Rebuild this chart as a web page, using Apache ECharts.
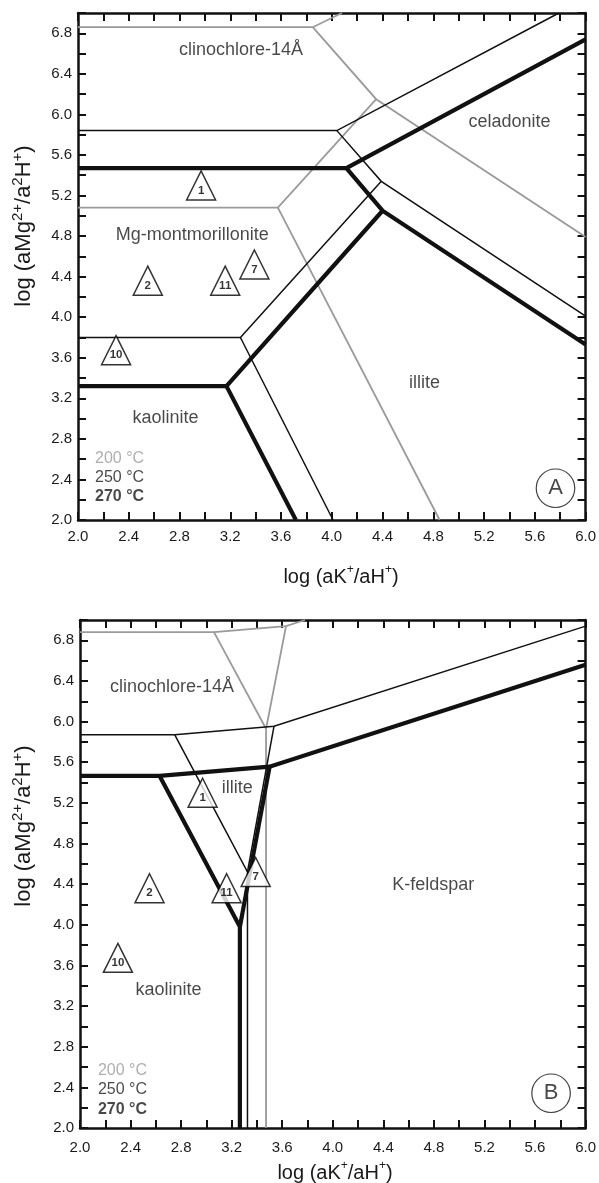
<!DOCTYPE html>
<html>
<head>
<meta charset="utf-8">
<script src="https://cdn.jsdelivr.net/npm/echarts@6/dist/echarts.min.js"></script>
<style>
html,body{margin:0;padding:0;background:#fff;}
#chart{width:599px;height:1183px;}
</style>
</head>
<body>
<div id="chart"></div>
<script>
// ---- tick labels ----
const xTickLabels = ['2.0','2.4','2.8','3.2','3.6','4.0','4.4','4.8','5.2','5.6','6.0'];
const yTickLabels = ['2.0','2.4','2.8','3.2','3.6','4.0','4.4','4.8','5.2','5.6','6.0','6.4','6.8'];

// ---- sample points (same in both panels) ----
const sampleNames = ['1','2','7','10','11'];
const sampleX = [2.97, 2.55, 3.39, 2.30, 3.16];
const sampleY = [5.30, 4.36, 4.52, 3.675, 4.36];

// ---- Panel A phase boundaries (polylines of [x, y]) ----
const a200 = [
  [[2.0,6.86],[3.85,6.86],[4.08,7.0]],
  [[3.85,6.86],[4.35,6.15],[6.0,4.79]],
  [[2.0,5.08],[3.575,5.08],[4.35,6.15]],
  [[3.575,5.08],[4.85,2.0]]
];
const a250 = [
  [[2.0,5.84],[4.04,5.84],[5.79,7.0]],
  [[4.04,5.84],[4.39,5.34],[6.0,4.01]],
  [[2.0,3.80],[3.28,3.80],[4.39,5.34]],
  [[3.28,3.80],[4.01,2.0]]
];
const a270 = [
  [[2.0,5.47],[4.115,5.47],[6.0,6.74]],
  [[4.115,5.47],[4.40,5.05],[6.0,3.73]],
  [[2.0,3.32],[3.17,3.32],[4.40,5.05]],
  [[3.17,3.32],[3.717,2.0]]
];

// ---- Panel B phase boundaries ----
const b200 = [
  [[2.0,6.88],[3.06,6.88],[3.63,6.94],[3.78,7.0]],
  [[3.06,6.88],[3.472,5.93]],
  [[3.63,6.94],[3.472,5.93],[3.472,2.0]]
];
const b250 = [
  [[2.0,5.87],[2.75,5.87],[3.535,5.955],[6.0,6.94]],
  [[2.75,5.87],[3.325,4.52],[3.325,2.0]],
  [[3.535,5.955],[3.325,4.52]]
];
const b270 = [
  [[2.0,5.465],[2.63,5.465],[3.50,5.556],[6.0,6.56]],
  [[2.63,5.465],[3.265,3.98],[3.265,2.0]],
  [[3.50,5.556],[3.265,3.98]]
];

// ---- region labels ----
const regionNamesA = ['clinochlore-14Å','Mg-montmorillonite','celadonite','illite','kaolinite'];
const regionXA = [3.285, 2.90, 5.40, 4.73, 2.69];
const regionYA = [6.634, 4.806, 5.92, 3.35, 3.005];
const regionNamesB = ['clinochlore-14Å','illite','K-feldspar','kaolinite'];
const regionXB = [2.728, 3.244, 4.795, 2.70];
const regionYB = [6.34, 5.343, 4.39, 3.358];

// ---- temperature key ----
const tempLabels = ['200 °C','250 °C','270 °C'];
const tempColors = ['#9a9a9a','#1a1a1a','#1a1a1a'];
const tempWeights = ['normal','normal','bold'];
const tempXA = 2.134, tempYA = [2.603, 2.415, 2.227];
const tempXB = 2.142, tempYB = [2.561, 2.374, 2.184];

// ---- panel letters ----
const panelLetters = ['A','B'];
const panelLetterX = [5.763, 5.727];
const panelLetterY = [2.313, 2.342];

const FONT = 'Liberation Sans, Arial, Helvetica, sans-serif';
const INK = '#1a1a1a';
const GRAY = '#9a9a9a';

function fmt(list){ return v => { const s = (Math.round(v*10)/10).toFixed(1); return list.includes(s) ? s : ''; }; }

function xAx(grid, pos, showLabel, margin){
  return {type:'value', gridIndex:grid, position:pos, min:2, max:6, interval:0.2,
    axisLine:{show:true, onZero:false, lineStyle:{color:'#111', width:2.5}},
    axisTick:{show:true, inside:true, length:8, lineStyle:{color:'#111', width:2}},
    splitLine:{show:false},
    axisLabel:{show:showLabel, formatter:fmt(xTickLabels), fontSize:15, color:INK, fontFamily:FONT, margin:margin}};
}
function yAx(grid, pos, showLabel){
  return {type:'value', gridIndex:grid, position:pos, min:2, max:7, interval:0.2,
    axisLine:{show:true, onZero:false, lineStyle:{color:'#111', width:2.5}},
    axisTick:{show:true, inside:true, length:8, lineStyle:{color:'#111', width:2}},
    splitLine:{show:false},
    axisLabel:{show:showLabel, formatter:fmt(yTickLabels), fontSize:15, color:INK, fontFamily:FONT, margin:6}};
}

function lines(polys, ai, color, width, z){
  return polys.map(p => ({type:'line', xAxisIndex:ai, yAxisIndex:ai, data:p, symbol:'none', showSymbol:false,
    lineStyle:{color:color, width:width, cap:'butt', join:'miter'}, silent:true, z:z, animation:false}));
}

function samples(ai){
  return {type:'scatter', xAxisIndex:ai, yAxisIndex:ai, z:10, symbol:'triangle', symbolSize:[29,29],
    itemStyle:{color:'#fff', borderColor:'#000', borderWidth:1.5},
    label:{show:true, position:'inside', offset:[0,5], formatter:'{b}', fontSize:11.5, fontWeight:'bold', color:'#000', fontFamily:FONT},
    data: sampleNames.map((n,i)=>({name:n, value:[sampleX[i], sampleY[i]]}))};
}

function regions(ai, names, xs, ys){
  return {type:'scatter', xAxisIndex:ai, yAxisIndex:ai, z:11, symbolSize:0, silent:true,
    label:{show:true, position:'inside', formatter:'{b}', fontSize:18, color:INK, fontFamily:FONT},
    data: names.map((n,i)=>({name:n, value:[xs[i], ys[i]]}))};
}

function temps(ai, x, ys){
  return {type:'scatter', xAxisIndex:ai, yAxisIndex:ai, z:11, symbolSize:0, silent:true,
    data: tempLabels.map((t,i)=>({name:t, value:[x, ys[i]],
      label:{show:true, position:'right', distance:0, formatter:'{b}', fontSize:16, color:tempColors[i], fontWeight:tempWeights[i], fontFamily:FONT}}))};
}

function letter(ai, i){
  return {type:'scatter', xAxisIndex:ai, yAxisIndex:ai, z:11, symbol:'circle', symbolSize:38.5, silent:true,
    itemStyle:{color:'#fff', borderColor:'#111', borderWidth:1.2},
    label:{show:true, position:'inside', formatter:'{b}', fontSize:22, color:INK, fontFamily:FONT},
    data:[{name:panelLetters[i], value:[panelLetterX[i], panelLetterY[i]]}]};
}

function title(text, x, y, rot, size, supSize){
  return {type:'text', x:x, y:y, rotation:rot, z:20,
    style:{text:text, fill:INK, fontSize:size, fontFamily:FONT, lineHeight:size+6, align:'center', verticalAlign:'middle',
      rich:{sup:{fontSize:supSize, lineHeight:supSize, verticalAlign:'top', fill:INK, fontFamily:FONT}}}};
}

const series = [].concat(
  lines(a200, 0, GRAY, 1.8, 2), lines(a250, 0, '#111', 1.5, 3), lines(a270, 0, '#111', 4.2, 4),
  lines(b200, 2, GRAY, 1.8, 2), lines(b250, 2, '#111', 1.5, 3), lines(b270, 2, '#111', 4.2, 4),
  [samples(0), samples(2),
   regions(0, regionNamesA, regionXA, regionYA), regions(2, regionNamesB, regionXB, regionYB),
   temps(0, tempXA, tempYA), temps(2, tempXB, tempYB),
   letter(0,0), letter(2,1)]
);

const chart = echarts.init(document.getElementById('chart'), null, {renderer:'canvas'});
chart.setOption({
  animation:false,
  backgroundColor:'#fff',
  grid:[
    {left:78, top:13, width:509, height:507, containLabel:false},
    {left:80, top:620, width:508, height:508, containLabel:false}
  ],
  xAxis:[xAx(0,'bottom',true,9), xAx(0,'top',false,8), xAx(1,'bottom',true,12), xAx(1,'top',false,8)],
  yAxis:[yAx(0,'left',true), yAx(0,'right',false), yAx(1,'left',true), yAx(1,'right',false)],
  graphic:[
    title('log (aK{sup|+}/aH{sup|+})', 341, 577, 0, 20, 12),
    title('log (aK{sup|+}/aH{sup|+})', 335, 1173, 0, 20, 12),
    title('log (aMg{sup|2+}/a{sup|2}H{sup|+})', 24, 226, Math.PI/2, 22, 15),
    title('log (aMg{sup|2+}/a{sup|2}H{sup|+})', 24, 826, Math.PI/2, 22, 15)
  ],
  series: series
});
</script>
</body>
</html>
